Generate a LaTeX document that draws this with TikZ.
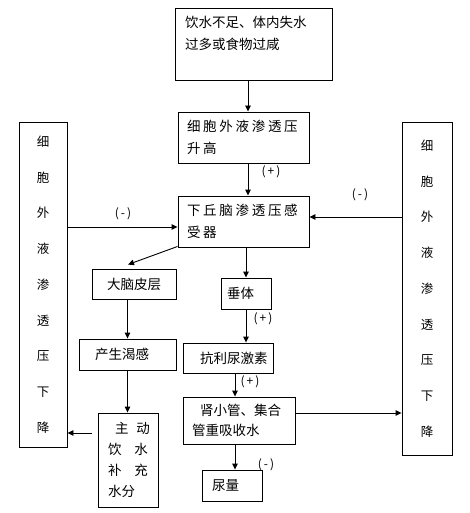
\documentclass[tikz,border=0pt]{standalone}
\usepackage{fontspec}
\setmainfont{Noto Sans CJK SC}
\newfontfamily\widefont[LetterSpace=20]{Noto Sans CJK SC}
\usetikzlibrary{arrows.meta,positioning}

\begin{document}
\begin{tikzpicture}[x=1pt,y=-1pt,
box/.style={draw,line width=0.9pt,align=left,inner xsep=0pt,inner ysep=0pt,font=\fontsize{13.5}{22}\selectfont},
tallbox/.style={draw,line width=0.9pt,align=center,inner sep=0pt,font=\fontsize{12.5}{35.75}\selectfont},
arrow/.style={-{Triangle[length=6pt,width=5.5pt]},line width=0.9pt},
sign/.style={inner sep=0pt,font=\fontsize{12}{12}\selectfont}
]
\useasboundingbox (0,0) rectangle (470,513);
% main chain
\node[box,minimum width=157,minimum height=72,text width=137] (cause) at (253.5,44) {饮水不足、体内失水\\过多或食物过咸\\~};
\node[box,minimum width=131,minimum height=51,text width=113] (rise) at (243.5,137.5) {\widefont 细胞外液渗透压\\升高};
\node[box,minimum width=131,minimum height=51,text width=113] (sensor) at (243.5,221.5) {\widefont 下丘脑渗透压感\\受器};
\node[tallbox,minimum width=48,minimum height=325] (dropL) at (43,284.5) {细\\胞\\外\\液\\渗\\透\\压\\下\\降};
\node[tallbox,minimum width=50,minimum height=333] (dropR) at (427,288.5) {细\\胞\\外\\液\\渗\\透\\压\\下\\降};
% thirst branch
\node[box,minimum width=84,minimum height=30,text width=54] (cortex) at (134,284) {大脑皮层};
\node[box,minimum width=97,minimum height=31,text width=65] (thirst) at (127.5,354.5) {产生渴感};
\node[box,minimum width=60,minimum height=94,text width=40,font=\fontsize{13.5}{21}\selectfont] (drink) at (128,460) {\mbox{\hspace*{7pt}主\hspace{8pt}动}\\\mbox{饮\hspace{13pt}水}\\\mbox{补\hspace{13pt}充}\\水分};
% hormone branch
\node[box,minimum width=50,minimum height=31,text width=38] (pit) at (246,293.5) {垂体};
\node[box,minimum width=90,minimum height=30,text width=56] (adh) at (228,358) {抗利尿激素};
\node[box,minimum width=112,minimum height=47,text width=94,font=\fontsize{13.5}{19.5}\selectfont] (tubule) at (239,420.5) {\mbox{\hspace*{8pt}肾小管、集合}\\管重吸收水};
\node[box,minimum width=60,minimum height=31,text width=40] (urine) at (232,485.5) {尿量};
% signs
\node[sign] (plusA) at (271,172) {(\,+\,)};
\node[sign] (minusL) at (123,214) {(\,-\,)};
\node[sign] (minusR) at (360,195) {(\,-\,)};
\node[sign] (plusB) at (263,319) {(\,+\,)};
\node[sign] (plusC) at (250,382) {(\,+\,)};
\node[sign] (minusU) at (266,465) {(\,-\,)};
% connectors
\draw[arrow] ([xshift=4.5pt]rise.north |- cause.south) -- ([xshift=4.5pt]rise.north);
\draw[arrow] ([xshift=4.5pt]rise.south) -- ([xshift=4.5pt]sensor.north);
\draw[arrow] ([yshift=-5.5pt]sensor.west -| dropL.east) -- ([yshift=-5.5pt]sensor.west);
\draw[arrow] ([yshift=4.5pt]sensor.east -| dropR.west) -- ([yshift=4.5pt]sensor.east);
\draw[arrow] ([yshift=1pt]sensor.south west) -- ([xshift=-6pt,yshift=4pt]cortex.north);
\draw[arrow] (cortex.south -| thirst.north) -- (thirst.north);
\draw[arrow] (thirst.south) -- (thirst.south |- drink.north);
\draw[arrow] ([xshift=-6pt,yshift=27pt]drink.west) -- ([yshift=27pt]drink.west -| dropL.east);
\draw[arrow] (sensor.south -| pit.north) -- (pit.north);
\draw[arrow] (pit.south) -- (pit.south |- adh.north);
\draw[arrow] ([xshift=7pt]adh.south) -- ([xshift=7pt]adh.south |- tubule.north);
\draw[arrow] ([yshift=7.5pt]tubule.east) -- ([yshift=7.5pt]tubule.east -| dropR.west);
\draw[arrow] ([xshift=3pt]urine.north |- tubule.south) -- ([xshift=3pt]urine.north);
\end{tikzpicture}
\end{document}
